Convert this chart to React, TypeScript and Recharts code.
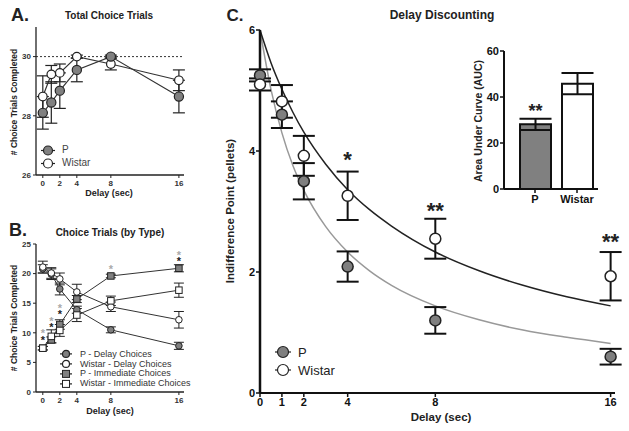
import React from 'react';
import {
  ComposedChart,
  Line,
  Scatter,
  XAxis,
  YAxis,
  ErrorBar,
  ReferenceLine,
  Bar,
  Cell,
  LabelList,
} from 'recharts';

const FONT = '"Liberation Sans", Arial, sans-serif';
const DELAYS = [0, 1, 2, 4, 8, 16];

// A. total choice trials
const totalP = [28.1, 28.45, 28.85, 29.55, 30.0, 28.65];
const totalPErr = [0.55, 0.7, 0.6, 0.4, 0.05, 0.55];
const totalWistar = [28.65, 29.4, 29.45, 30.0, 29.75, 29.2];
const totalWistarErr = [0.7, 0.3, 0.3, 0.05, 0.2, 0.35];

// B. choice trials by type
const pDelay = [20.8, 19.9, 17.4, 13.9, 10.5, 7.8];
const pDelayErr = [0.7, 0.9, 1.0, 0.6, 0.5, 0.6];
const wDelay = [21.1, 20.1, 19.1, 16.9, 14.4, 12.2];
const wDelayErr = [1.0, 0.9, 1.0, 1.3, 0.8, 1.4];
const pImm = [7.4, 8.8, 11.4, 15.7, 19.6, 20.9];
const pImmErr = [0.3, 0.5, 0.8, 0.6, 0.3, 0.6];
const wImm = [7.4, 9.4, 10.4, 13.0, 15.4, 17.2];
const wImmErr = [0.3, 1.1, 1.0, 1.1, 0.8, 1.2];
const bStars = [
  { x: 0, y: 10.35, t: '*', c: '#aaa' },
  { x: 0, y: 9.2, t: '*', c: '#222' },
  { x: 1, y: 12.4, t: '*', c: '#aaa' },
  { x: 1, y: 11.3, t: '*', c: '#222' },
  { x: 2, y: 14.5, t: '*', c: '#aaa' },
  { x: 2, y: 13.5, t: '*', c: '#222' },
  { x: 8, y: 21.2, t: '*', c: '#aaa' },
  { x: 16, y: 23.6, t: '*', c: '#aaa' },
  { x: 16, y: 22.5, t: '*', c: '#222' },
];

// C. delay discounting
const ipP = [5.25, 4.6, 3.5, 2.09, 1.2, 0.6];
const ipPErr = [0.1, 0.22, 0.3, 0.25, 0.22, 0.13];
const ipWistar = [5.1, 4.82, 3.92, 3.26, 2.55, 1.93];
const ipWistarErr = [0.1, 0.27, 0.33, 0.4, 0.33, 0.4];
const fitDelays = [0, 0.5, 1, 1.5, 2, 3, 4, 5, 6, 8, 10, 12, 14, 16];
const fitP = [6, 5.02, 4.3, 3.76, 3.35, 2.75, 2.33, 2.02, 1.78, 1.44, 1.21, 1.04, 0.92, 0.82];
const fitWistar = [6, 5.46, 5.02, 4.64, 4.31, 3.78, 3.36, 3.03, 2.76, 2.33, 2.02, 1.78, 1.59, 1.44];
const cStars = [
  { x: 4, y: 3.95, t: '*', c: '#222' },
  { x: 8, y: 3.1, t: '**', c: '#222' },
  { x: 16, y: 2.58, t: '**', c: '#222' },
];

// inset AUC
const aucGroups = ['P', 'Wistar'];
const aucValues = [28.1, 45.8];
const aucErr = [2.4, 4.6];
const aucStars = ['**', ''];

const pts = (xs: number[], ys: number[], es?: number[]) =>
  xs.map((x, i) => ({ x, y: ys[i], e: es ? es[i] : 0 }));

const circleDot = (r: number, fill: string, sw: number) => (p: any) => (
  <circle key={`c-${p.index}`} cx={p.cx} cy={p.cy} r={r} fill={fill} stroke="#222" strokeWidth={sw} />
);
const squareDot = (s: number, fill: string) => (p: any) => (
  <rect key={`s-${p.index}`} x={p.cx - s / 2} y={p.cy - s / 2} width={s} height={s} fill={fill} stroke="#222" strokeWidth={1} />
);
const starShape = (fs: number) => (p: any) => (
  <text
    x={p.cx}
    y={p.cy + fs * 0.57}
    textAnchor="middle"
    fontSize={fs}
    fontFamily={FONT}
    fontWeight="bold"
    fill={p.payload.c}
  >
    {p.payload.t}
  </text>
);

const Txt = ({ x, y, size, children, rotate, color, bold = true }: any) => (
  <div
    style={{
      position: 'absolute',
      left: x,
      top: y,
      transform: `translate(-50%, -50%)${rotate ? ' rotate(-90deg)' : ''}`,
      fontFamily: FONT,
      fontSize: size,
      fontWeight: bold ? 'bold' : 'normal',
      color: color || '#222',
      whiteSpace: 'nowrap',
      lineHeight: 1,
    }}
  >
    {children}
  </div>
);

type LegendItem = { name: string; marker: string; fill: string };

const LegendBox = ({ items, left, top, size, rowH, icon, iconW, gap, color }: any) => (
  <div style={{ position: 'absolute', left, top, fontFamily: FONT, fontSize: size, color, lineHeight: 1 }}>
    {items.map((it: LegendItem) => (
      <div key={it.name} style={{ height: rowH, display: 'flex', alignItems: 'center' }}>
        <svg width={iconW} height={rowH} style={{ marginRight: gap, flexShrink: 0 }}>
          <line x1={0} x2={iconW} y1={rowH / 2} y2={rowH / 2} stroke="#222" strokeWidth={1.2} />
          {it.marker === 'circle' ? (
            <circle cx={iconW / 2} cy={rowH / 2} r={icon / 2} fill={it.fill} stroke="#222" strokeWidth={1.2} />
          ) : (
            <rect x={iconW / 2 - icon / 2} y={rowH / 2 - icon / 2} width={icon} height={icon} fill={it.fill} stroke="#222" strokeWidth={1} />
          )}
        </svg>
        <span style={{ whiteSpace: 'nowrap' }}>{it.name}</span>
      </div>
    ))}
  </div>
);

const smallTick = { fontSize: 8, fontWeight: 'bold', fill: '#333', fontFamily: FONT };
const bigTick = { fontSize: 11, fontWeight: 'bold', fill: '#111', fontFamily: FONT };

const App = () => {
  const aData = { p: pts(DELAYS, totalP, totalPErr), w: pts(DELAYS, totalWistar, totalWistarErr) };
  const bSeries = [
    { name: 'P - Delay Choices', data: pts(DELAYS, pDelay, pDelayErr), marker: 'circle', fill: '#808080' },
    { name: 'Wistar - Delay Choices', data: pts(DELAYS, wDelay, wDelayErr), marker: 'circle', fill: '#fff' },
    { name: 'P - Immediate Choices', data: pts(DELAYS, pImm, pImmErr), marker: 'square', fill: '#808080' },
    { name: 'Wistar - Immediate Choices', data: pts(DELAYS, wImm, wImmErr), marker: 'square', fill: '#fff' },
  ];
  const aucData = aucGroups.map((g, i) => ({ g, v: aucValues[i], e: aucErr[i], s: aucStars[i] }));

  return (
    <div style={{ position: 'absolute', left: 0, top: 0, width: 629, height: 431, background: '#fff' }}>
      {/* Panel A */}
      <div style={{ position: 'absolute', left: 0, top: 0 }}>
        <ComposedChart width={200} height={200} margin={{ top: 27, right: 16, bottom: 0, left: 0 }}>
          <XAxis
            type="number"
            dataKey="x"
            domain={[-0.8, 16.6]}
            ticks={DELAYS}
            height={25}
            tick={smallTick}
            tickSize={3}
            axisLine={{ stroke: '#222', strokeWidth: 1.3 }}
            tickLine={{ stroke: '#222' }}
          />
          <YAxis
            dataKey="y"
            domain={[26, 31]}
            ticks={[26, 28, 30]}
            width={36}
            tick={smallTick}
            tickSize={3}
            axisLine={{ stroke: '#222', strokeWidth: 1.3 }}
            tickLine={{ stroke: '#222' }}
          />
          <ReferenceLine y={30} stroke="#333" strokeDasharray="2 2" strokeWidth={1} />
          <Line data={aData.w} dataKey="y" stroke="#333" strokeWidth={1.2} isAnimationActive={false} dot={circleDot(4.3, '#fff', 1.2)}>
            <ErrorBar dataKey="e" width={6} stroke="#222" strokeWidth={1.2} />
          </Line>
          <Line data={aData.p} dataKey="y" stroke="#333" strokeWidth={1.2} isAnimationActive={false} dot={circleDot(4.6, '#808080', 1.2)}>
            <ErrorBar dataKey="e" width={6} stroke="#222" strokeWidth={1.2} />
          </Line>
        </ComposedChart>
      </div>
      <LegendBox
        items={[
          { name: 'P', marker: 'circle', fill: '#808080' },
          { name: 'Wistar', marker: 'circle', fill: '#fff' },
        ]}
        left={41}
        top={143.5}
        size={10}
        rowH={13}
        icon={9}
        iconW={14}
        gap={7}
        color="#444"
      />
      <Txt x={20} y={15} size={18}>A.</Txt>
      <Txt x={109} y={16} size={10}>Total Choice Trials</Txt>
      <Txt x={14} y={102} size={8.5} rotate>
        # Choice Trials Completed
      </Txt>
      <Txt x={109} y={193} size={9}>Delay (sec)</Txt>

      {/* Panel B */}
      <div style={{ position: 'absolute', left: 0, top: 200 }}>
        <ComposedChart width={200} height={215} margin={{ top: 44, right: 16, bottom: 0, left: 0 }}>
          <XAxis
            type="number"
            dataKey="x"
            domain={[-0.8, 16.6]}
            ticks={DELAYS}
            height={23}
            tick={smallTick}
            tickSize={3}
            axisLine={{ stroke: '#222', strokeWidth: 1.3 }}
            tickLine={{ stroke: '#222' }}
          />
          <YAxis
            dataKey="y"
            domain={[0, 25]}
            ticks={[0, 5, 10, 15, 20, 25]}
            width={36}
            tick={smallTick}
            tickSize={3}
            axisLine={{ stroke: '#222', strokeWidth: 1.3 }}
            tickLine={{ stroke: '#222' }}
          />
          {bSeries.map((s) => (
            <Line
              key={s.name}
              data={s.data}
              dataKey="y"
              stroke="#333"
              strokeWidth={1}
              isAnimationActive={false}
              dot={s.marker === 'circle' ? circleDot(3.3, s.fill, 1) : squareDot(6.5, s.fill)}
            >
              <ErrorBar dataKey="e" width={5} stroke="#222" strokeWidth={1} />
            </Line>
          ))}
          <Scatter data={bStars} dataKey="y" isAnimationActive={false} shape={starShape(11)} />
        </ComposedChart>
      </div>
      <LegendBox
        items={bSeries}
        left={60}
        top={349.4}
        size={9}
        rowH={9.8}
        icon={7}
        iconW={12}
        gap={8}
        color="#333"
      />
      <Txt x={18} y={230} size={18}>B.</Txt>
      <Txt x={110} y={233} size={10}>Choice Trials (by Type)</Txt>
      <Txt x={14} y={318} size={8.5} rotate>
        # Choice Trials Completed
      </Txt>
      <Txt x={110} y={411} size={9}>Delay (sec)</Txt>

      {/* Panel C */}
      <div style={{ position: 'absolute', left: 210, top: 0 }}>
        <ComposedChart width={419} height={431} margin={{ top: 30, right: 14, bottom: 0, left: 0 }}>
          <XAxis
            type="number"
            dataKey="x"
            domain={[0, 16.2]}
            ticks={DELAYS}
            height={38}
            tick={bigTick}
            tickSize={4}
            tickMargin={1}
            axisLine={{ stroke: '#111', strokeWidth: 2 }}
            tickLine={{ stroke: '#111', strokeWidth: 1.5 }}
          />
          <YAxis
            dataKey="y"
            domain={[0, 6]}
            ticks={[0, 2, 4, 6]}
            width={50}
            tick={bigTick}
            tickSize={4}
            tickMargin={1}
            axisLine={{ stroke: '#111', strokeWidth: 2.5 }}
            tickLine={{ stroke: '#111', strokeWidth: 1.5 }}
          />
          <Line data={pts(fitDelays, fitP)} dataKey="y" type="monotone" stroke="#999" strokeWidth={1.5} dot={false} isAnimationActive={false} />
          <Line data={pts(fitDelays, fitWistar)} dataKey="y" type="monotone" stroke="#222" strokeWidth={1.5} dot={false} isAnimationActive={false} />
          <Scatter data={pts(DELAYS, ipP, ipPErr)} dataKey="y" isAnimationActive={false} shape={circleDot(5.5, '#7f7f7f', 1.5)}>
            <ErrorBar dataKey="e" direction="y" width={11} stroke="#111" strokeWidth={2} />
          </Scatter>
          <Scatter data={pts(DELAYS, ipWistar, ipWistarErr)} dataKey="y" isAnimationActive={false} shape={circleDot(5.5, '#fff', 1.5)}>
            <ErrorBar dataKey="e" direction="y" width={11} stroke="#111" strokeWidth={2} />
          </Scatter>
          <Scatter data={cStars} dataKey="y" isAnimationActive={false} shape={starShape(22)} />
        </ComposedChart>
      </div>
      <LegendBox
        items={[
          { name: 'P', marker: 'circle', fill: '#7f7f7f' },
          { name: 'Wistar', marker: 'circle', fill: '#fff' },
        ]}
        left={275}
        top={343}
        size={13}
        rowH={18}
        icon={11}
        iconW={16}
        gap={7}
        color="#222"
      />
      <Txt x={235} y={15} size={17}>C.</Txt>
      <Txt x={442} y={15} size={12}>Delay Discounting</Txt>
      <Txt x={231} y={211} size={11.5} rotate>
        Indifference Point (pellets)
      </Txt>
      <Txt x={441} y={418} size={11.5}>Delay (sec)</Txt>

      {/* Inset AUC */}
      <div style={{ position: 'absolute', left: 460, top: 30 }}>
        <ComposedChart width={150} height={185} data={aucData} margin={{ top: 21, right: 12, bottom: 0, left: 0 }}>
          <XAxis
            dataKey="g"
            height={26}
            padding={{ left: 10, right: 0 }}
            tick={bigTick}
            tickSize={4}
            tickMargin={2}
            axisLine={{ stroke: '#111', strokeWidth: 2 }}
            tickLine={{ stroke: '#111', strokeWidth: 1.5 }}
          />
          <YAxis
            domain={[0, 60]}
            ticks={[0, 20, 40, 60]}
            width={44}
            tick={bigTick}
            tickSize={4}
            tickMargin={1}
            axisLine={{ stroke: '#111', strokeWidth: 2 }}
            tickLine={{ stroke: '#111', strokeWidth: 1.5 }}
          />
          <Bar dataKey="v" barSize={31} stroke="#111" strokeWidth={2} isAnimationActive={false}>
            {aucData.map((d, i) => (
              <Cell key={d.g} fill={i === 0 ? '#808080' : '#fff'} />
            ))}
            <ErrorBar dataKey="e" width={16} stroke="#111" strokeWidth={2} />
            <LabelList
              dataKey="s"
              content={(p: any) => (
                <text
                  x={p.x + p.width / 2}
                  y={p.y - 7}
                  textAnchor="middle"
                  fontSize={18}
                  fontWeight="bold"
                  fontFamily={FONT}
                  fill="#222"
                >
                  {p.value}
                </text>
              )}
            />
          </Bar>
        </ComposedChart>
      </div>
      <Txt x={478} y={121} size={10.5} rotate>
        Area Under Curve (AUC)
      </Txt>
    </div>
  );
};

export default App;
